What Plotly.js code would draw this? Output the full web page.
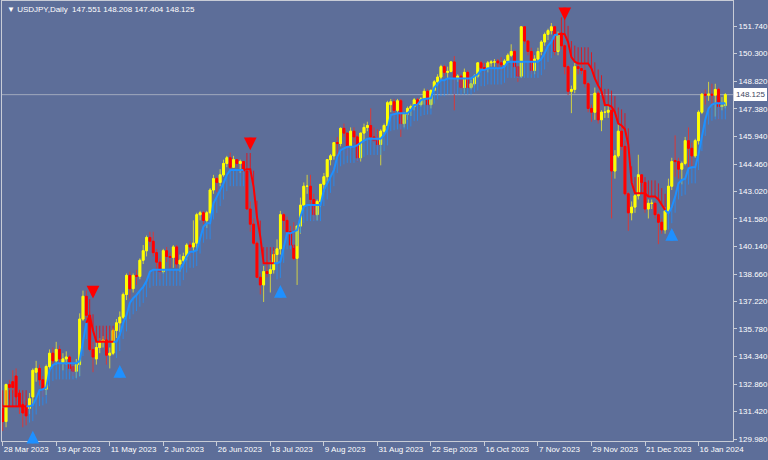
<!DOCTYPE html>
<html><head><meta charset="utf-8">
<script src="https://cdn.plot.ly/plotly-3.0.1.min.js"></script>
<style>html,body{margin:0;padding:0;background:#5d6e99;}#chart{width:768px;height:460px;}</style>
</head><body><div id="chart"></div>
<script>
const symbolName = 'USDJPY,Daily';
const tickLabels = ['28 Mar 2023','19 Apr 2023','11 May 2023','2 Jun 2023','26 Jun 2023','18 Jul 2023','9 Aug 2023','31 Aug 2023','22 Sep 2023','16 Oct 2023','7 Nov 2023','29 Nov 2023','21 Dec 2023','16 Jan 2024'];
const tickBars = [0,16,32,48,64,80,96,112,128,144,160,176,192,208];
const yTickVals = [129.98,131.42,132.86,134.34,135.78,137.22,138.66,140.14,141.58,143.02,144.46,145.94,147.38,148.82,150.30,151.74];

const open = [
131.60,130.90,132.85,133.00,133.30,132.40,131.80,131.70,131.60,132.20,
133.50,133.70,133.10,132.60,133.80,134.50,134.10,134.70,134.00,134.20,
134.30,133.80,133.55,133.90,136.30,137.50,136.50,134.70,134.20,134.80,
135.10,135.20,134.40,134.50,135.70,136.10,136.40,137.60,138.60,137.90,
138.60,138.55,139.40,139.90,140.60,140.40,139.80,139.30,138.80,139.90,
139.60,139.55,140.10,139.20,139.40,139.60,140.20,140.10,140.30,141.80,
141.90,141.50,141.90,143.10,143.70,143.50,143.90,144.50,144.80,144.30,
144.70,144.50,144.60,144.10,142.10,141.30,140.30,138.50,138.10,138.80,
138.70,138.90,139.70,140.00,141.80,141.50,140.90,140.20,139.50,141.20,
142.30,143.30,143.30,142.60,141.80,142.50,143.40,143.80,144.70,144.90,
145.60,145.55,146.35,146.10,145.40,146.20,145.90,144.80,146.10,146.40,
146.50,145.90,145.70,145.50,146.20,146.50,147.60,147.75,147.30,147.80,
146.60,147.10,147.40,147.50,147.85,147.60,147.90,148.30,147.60,148.35,
148.80,149.05,149.60,149.30,149.35,149.85,149.00,149.10,148.50,149.30,
148.50,148.70,149.10,149.80,149.55,149.50,149.80,149.85,149.90,149.80,
149.70,149.90,150.20,150.40,149.60,149.10,151.70,150.95,150.40,149.40,
150.00,150.40,150.90,151.30,151.50,151.70,150.40,151.30,150.70,149.60,
148.30,148.40,149.60,149.50,149.40,148.70,147.40,147.20,148.20,146.80,
147.20,147.20,147.30,144.10,144.90,146.20,145.40,142.90,141.90,142.20,
142.80,143.90,143.50,142.10,142.40,142.40,141.80,141.40,141.00,142.00,
143.30,144.65,144.60,144.20,144.50,145.70,145.30,144.90,145.70,147.20,
148.15,148.10,148.15,148.10,148.40,147.50,147.551];
const high = [
131.80,132.90,133.10,133.60,133.70,132.60,131.90,132.00,132.40,133.70,
134.10,133.90,133.30,133.90,134.70,134.80,135.10,134.90,134.50,134.60,
134.40,134.00,134.20,136.60,137.80,137.80,136.70,135.10,135.10,135.30,
135.40,135.50,134.80,135.80,136.30,136.70,137.70,138.70,138.80,138.70,
138.90,139.50,140.20,140.70,140.90,140.90,140.00,139.50,140.00,140.10,
139.80,140.20,140.20,139.70,139.80,140.30,140.40,141.50,141.90,142.00,
142.00,142.00,143.20,143.90,143.80,144.20,144.70,144.90,145.07,144.90,
144.70,144.70,144.60,144.20,142.50,141.60,140.40,138.70,139.10,139.40,
139.40,139.90,140.50,142.00,141.90,141.70,141.20,141.40,141.20,142.70,
143.50,143.90,143.90,142.90,142.60,143.40,144.00,144.70,145.00,145.60,
145.90,146.40,146.60,146.10,146.40,146.40,146.00,146.10,146.60,146.70,
147.40,146.40,146.30,146.30,146.60,147.80,147.90,147.90,147.90,147.90,
147.20,147.50,147.60,147.95,147.95,148.00,148.45,148.40,148.40,148.90,
149.20,149.70,149.70,149.60,149.90,150.16,149.20,149.20,149.50,149.40,
148.90,149.20,149.80,149.90,149.80,149.90,149.95,150.00,150.00,150.10,
150.00,150.30,150.78,150.50,149.80,151.70,151.72,151.00,150.60,150.20,
150.60,151.00,151.40,151.60,151.90,151.75,151.45,151.40,150.80,149.70,
148.60,149.80,149.75,149.70,149.70,148.80,147.60,148.50,148.30,147.30,
147.50,147.60,147.40,145.20,146.60,146.50,145.70,143.00,142.50,142.90,
144.96,143.90,143.50,142.60,142.60,142.50,141.90,141.60,142.20,143.70,
144.80,145.98,144.80,144.60,145.90,146.40,145.60,145.80,147.30,148.20,
148.40,148.80,148.70,148.70,148.50,148.00,148.208];
const low = [
130.40,130.60,132.10,132.40,132.00,131.30,130.60,130.70,131.30,131.80,
133.00,132.80,132.20,132.30,133.60,133.90,133.90,133.80,133.60,133.90,
133.50,133.30,133.20,133.30,136.20,136.30,134.60,133.50,133.90,134.50,
134.80,133.90,133.70,134.40,135.30,135.60,136.30,137.30,137.40,137.70,
138.10,138.40,139.20,139.60,140.10,139.60,138.80,138.40,138.70,139.30,
139.00,139.00,139.00,138.80,139.30,139.40,139.60,139.90,139.90,141.50,
141.30,141.10,141.60,142.90,143.00,143.30,143.80,144.30,144.10,144.30,
144.30,144.00,143.60,142.10,140.90,140.20,138.50,137.60,137.20,138.50,
137.70,138.70,139.20,139.70,141.00,140.70,140.20,139.40,138.10,140.80,
142.20,142.90,142.00,141.50,141.50,142.20,143.00,143.50,144.40,144.70,
144.90,145.40,145.90,144.90,145.30,145.60,144.60,144.60,145.70,146.20,
145.90,145.60,145.40,144.40,146.00,146.40,147.20,147.00,147.10,145.90,
146.40,146.80,147.00,147.30,147.50,147.50,147.60,147.30,147.40,148.30,
148.60,148.90,149.10,149.00,149.30,147.30,148.80,148.40,148.20,148.50,
148.40,148.60,149.00,149.40,149.30,149.30,149.60,149.60,149.50,149.40,
149.60,149.80,150.10,149.50,148.80,149.00,150.80,150.20,149.20,149.20,
149.90,150.20,150.70,151.00,151.30,150.20,150.20,150.50,149.20,148.10,
147.15,148.20,149.20,149.20,148.50,147.20,146.70,146.80,146.60,146.20,
146.90,146.90,141.60,143.70,144.80,145.20,142.80,140.95,141.50,141.90,
142.60,143.30,141.90,141.60,142.10,141.60,140.25,140.80,140.80,141.90,
143.10,143.80,143.70,143.40,144.40,144.30,144.30,144.80,145.50,147.10,
147.60,147.80,147.60,146.97,146.80,147.30,147.404];
const close = [
130.90,132.85,132.70,132.70,132.20,131.70,131.35,131.20,132.10,133.60,
133.70,133.10,132.60,133.80,134.50,134.10,134.70,134.20,134.20,134.30,
133.70,133.55,133.90,136.30,137.50,136.50,134.70,134.30,134.80,135.10,
135.20,134.40,134.50,135.70,136.10,136.40,137.60,138.60,137.90,138.60,
138.55,139.40,139.90,140.60,140.40,139.80,139.30,138.80,139.90,139.60,
139.55,140.10,139.20,139.40,139.60,140.20,140.10,140.30,141.80,141.90,
141.50,141.90,143.10,143.70,143.50,143.90,144.50,144.80,144.30,144.70,
144.50,144.60,144.10,142.10,141.30,140.30,138.50,138.10,138.80,138.70,
138.90,139.70,140.00,141.80,141.50,140.90,140.20,139.50,141.20,142.30,
143.30,143.30,142.60,141.80,142.50,143.40,143.80,144.70,144.90,145.60,
145.55,146.35,146.10,145.40,146.20,145.90,144.80,146.10,146.40,146.50,
145.90,145.70,145.50,146.20,146.50,147.70,147.75,147.30,147.80,146.60,
147.10,147.40,147.50,147.85,147.60,147.90,148.30,147.60,148.35,148.80,
149.05,149.60,149.30,149.35,149.85,149.00,149.10,148.50,149.30,148.50,
148.70,149.10,149.80,149.55,149.50,149.80,149.85,149.85,149.80,149.70,
149.90,150.20,150.40,149.60,149.10,151.70,150.95,150.40,149.40,150.00,
150.40,150.90,151.30,151.50,151.70,150.40,151.30,150.70,149.60,148.30,
148.40,149.60,149.50,149.40,148.70,147.40,147.20,148.20,146.80,147.20,
147.20,147.30,144.10,144.90,146.20,145.40,142.90,141.90,142.20,142.80,
143.90,143.50,142.10,142.40,142.40,141.80,141.40,141.00,142.00,143.30,
144.60,144.60,144.20,144.50,145.70,145.30,144.90,145.70,147.20,148.15,
148.10,148.15,148.10,148.40,147.50,147.55,148.125];
const stopLevel = [
131.7,131.7,131.7,131.7,131.7,131.7,131.7,131.7,131.7,131.77,
132.12,132.56,132.6,132.7,133.6,133.88,133.97,133.97,133.97,133.97,
133.97,133.97,133.97,134.1,135.2,136.1,136.5,135.7,135.1,135.1,
135.1,135.1,135.1,135.1,135.1,135.46,136.1,136.5,137.15,137.4,
137.57,137.8,138.0,138.3,138.8,138.9,138.9,138.9,138.9,138.9,
138.9,138.9,138.9,138.9,139.2,139.6,139.85,139.85,139.94,140.6,
141.17,141.35,141.35,142.4,142.75,143.1,143.45,143.89,144.15,144.15,
144.15,144.15,144.15,144.2,144.2,143.27,141.69,140.64,139.24,139.24,
139.24,139.24,139.24,139.32,140.11,140.82,140.82,140.9,140.99,141.69,
142.22,142.31,142.31,142.31,142.31,142.31,143.1,143.45,143.8,144.15,
144.85,145.2,145.3,145.38,145.38,145.38,145.47,145.6,145.7,145.8,
145.8,145.8,145.8,145.8,146.0,146.3,147.05,147.1,147.14,147.14,
147.14,147.14,147.3,147.58,147.6,147.84,147.9,147.93,147.93,148.5,
148.72,148.89,148.89,148.98,148.98,148.98,148.98,148.98,148.98,148.98,
148.98,149.1,149.2,149.42,149.42,149.51,149.51,149.51,149.51,149.51,
149.6,149.86,149.86,149.86,149.86,149.86,149.86,149.86,149.86,149.86,
149.86,150.0,150.3,150.7,150.9,151.27,151.3,151.35,151.3,150.9,
150.1,149.86,149.77,149.77,149.77,149.77,149.51,148.98,148.6,148.3,
147.58,147.58,147.49,147.2,146.6,146.5,146.3,145.5,143.5,142.93,
142.93,142.93,142.93,142.76,142.76,142.76,142.6,142.35,142.05,141.87,
142.2,142.75,143.45,143.63,143.7,144.24,144.3,144.3,145.0,146.0,
146.8,147.4,147.6,147.67,147.67,147.67,147.67];
const trendFlips = [8, 26, 34, 73, 82, 167, 199];
const firstTrend = -1;
// arrow tips (signal arrows)
const upArrowBar = [9, 35, 83, 200];
const upArrowTip = [130.42, 133.88, 138.10, 141.10];
const dnArrowBar = [27, 74, 168];
const dnArrowTip = [137.38, 145.20, 152.05];

const n = close.length;
const idx = close.map((_, i) => i);
const trend = [];
let t = firstTrend;
for (let i = 0; i < n; i++) { if (trendFlips.includes(i)) t = -t; trend.push(t); }
const seg = dir => idx.map(i => (trend[i] === dir || (i + 1 < n && trend[i + 1] === dir)) ? stopLevel[i] : null);
const tickLen = dir => idx.map(i => trend[i] === dir ? 0.85 : 0);
const bodyTop = idx.map(i => Math.max(open[i], close[i]));
const bodyBot = idx.map(i => Math.min(open[i], close[i]));

const BG = '#5d6e99';
const FRAME = '#c8ccd6';
const FONT = 'Liberation Sans, Arial, sans-serif';

const traces = [
  {type:'scatter', mode:'lines', x: idx, y: seg(1), connectgaps:false,
   line:{color:'#1e90ff', width:2}, hoverinfo:'skip',
   error_y:{type:'data', symmetric:false, array: idx.map(()=>0), arrayminus: tickLen(1), color:'rgba(30,144,255,0.75)', thickness:1, width:0}},
  {type:'scatter', mode:'lines', x: idx, y: seg(-1), connectgaps:false,
   line:{color:'#ff0000', width:2}, hoverinfo:'skip',
   error_y:{type:'data', symmetric:false, array: tickLen(-1), arrayminus: idx.map(()=>0), color:'rgba(255,0,0,0.75)', thickness:1, width:0}},
  {type:'candlestick', x: idx, open, high, low, close, whiskerwidth:0, hoverinfo:'skip',
   increasing:{line:{color:'#cfcf45', width:1}, fillcolor:'#cfcf45'},
   decreasing:{line:{color:'#d83a3a', width:1}, fillcolor:'#d83a3a'}},
  {type:'candlestick', x: idx, open, high: bodyTop, low: bodyBot, close, whiskerwidth:0, hoverinfo:'skip',
   increasing:{line:{color:'#ffff00', width:1}, fillcolor:'#ffff00'},
   decreasing:{line:{color:'#ff0000', width:1}, fillcolor:'#ff0000'}}
];

const arrowAnn = (x, y, color, ay) => ({x, y, xref:'x', yref:'y', text:'', showarrow:true,
  ax:0, ay, arrowhead:2, arrowsize:0.85, arrowwidth:3, arrowcolor:color, standoff:0, startstandoff:0});

const last = n - 1;
const header = '▼ ' + symbolName + '  ' + [open[last], high[last], low[last], close[last]].map(v => v.toFixed(3)).join(' ');

const layout = {
  width:768, height:460,
  margin:{l:2, r:35, t:1, b:19},
  paper_bgcolor: BG, plot_bgcolor: BG,
  showlegend:false, boxgap:0.22,
  font:{family: FONT, size:8, color:'#ffffff'},
  xaxis:{range:[-0.21, 218.3], tickvals: tickBars, ticktext: tickLabels, tickangle:0,
    showgrid:false, zeroline:false, showline:true, linecolor: FRAME, linewidth:1, mirror:true,
    ticks:'outside', ticklen:4, tickcolor: FRAME, ticklabelposition:'outside right',
    tickfont:{family: FONT, size:8, color:'#ffffff'}, rangeslider:{visible:false}, fixedrange:true},
  yaxis:{range:[129.875, 153.06], side:'right', tickvals: yTickVals, ticktext: yTickVals.map(v => v.toFixed(3)),
    showgrid:false, zeroline:false, showline:true, linecolor: FRAME, linewidth:1, mirror:true,
    ticks:'outside', ticklen:3, tickcolor: FRAME,
    tickfont:{family: FONT, size:8, color:'#ffffff'}, fixedrange:true},
  shapes:[{type:'line', xref:'paper', x0:0, x1:1, yref:'y', y0: close[last], y1: close[last],
    line:{color:'rgba(190,195,205,0.7)', width:1}, layer:'below'}],
  annotations:[
    {xref:'paper', yref:'paper', x:0.004, y:0.995, xanchor:'left', yanchor:'top', showarrow:false,
     text: header, font:{family: FONT, size:8, color:'#ffffff'}},
    {xref:'paper', yref:'y', x:1, y: close[last], xanchor:'left', yanchor:'middle', xshift:1, showarrow:false,
     text: close[last].toFixed(3), bgcolor:'#ffffff', bordercolor:'#ffffff', borderpad:1,
     font:{family: FONT, size:8, color:'#3c4660'}}
  ].concat(upArrowBar.map((b, k) => arrowAnn(b, upArrowTip[k], '#1e90ff', 14)))
   .concat(dnArrowBar.map((b, k) => arrowAnn(b, dnArrowTip[k], '#ff0000', -14)))
};
Plotly.newPlot('chart', traces, layout, {staticPlot:true, displayModeBar:false});
</script></body></html>
